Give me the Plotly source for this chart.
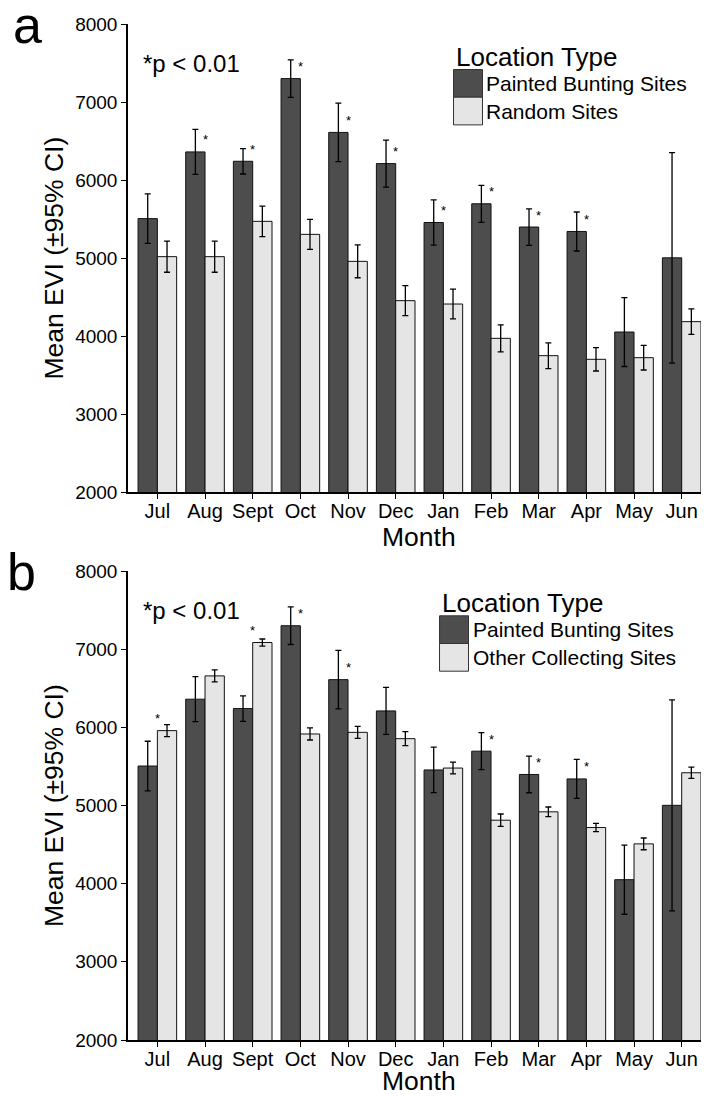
import plotly.graph_objects as go

# ---------------- data ----------------
months = ["Jul", "Aug", "Sept", "Oct", "Nov", "Dec", "Jan", "Feb", "Mar", "Apr", "May", "Jun"]

pb_mean = [5505, 6360, 6240, 7300, 6610, 6210, 5455, 5695, 5397, 5340, 4051, 5002]
pb_ci = [317, 288, 163, 240, 375, 301, 291, 237, 234, 250, 442, 1349]

random_mean = [5017, 5017, 5470, 5303, 4957, 4453, 4410, 3970, 3748, 3701, 3722, 4184]
random_ci = [200, 200, 195, 193, 210, 193, 190, 173, 165, 150, 158, 164]

other_mean = [5958, 6658, 7085, 5915, 5936, 5855, 5479, 4812, 4919, 4718, 4509, 5419]
other_ci = [77, 77, 45, 77, 77, 90, 75, 79, 62, 53, 75, 73]

# significance flags (p < 0.01)
sig_a_pb = [0, 1, 1, 1, 1, 1, 1, 1, 1, 1, 0, 0]
sig_b_pb = [0, 0, 0, 1, 1, 0, 0, 1, 1, 1, 0, 0]
sig_b_other = [1, 0, 1, 0, 0, 0, 0, 0, 0, 0, 0, 0]

y_ticks = [2000, 3000, 4000, 5000, 6000, 7000, 8000]

series_pb = "Painted Bunting Sites"
series_random = "Random Sites"
series_other = "Other Collecting Sites"

# ---------------- geometry / style ----------------
# the page body has an 8px margin; the figure is offset by it
OFF = 8
W, H = 709 - OFF, 1097 - OFF
top_px = (24, 492)      # reference-page pixel rows of panel a
bot_px = (571, 1040)    # reference-page pixel rows of panel b
ML, MR, MT = 127.5 - OFF, 8, top_px[0] - OFF
MB = H - (bot_px[1] - OFF)
PW = W - ML - MR
PH = H - MT - MB

FONT = "Liberation Sans, Arial, Helvetica, sans-serif"
DARK = "#4D4D4D"
LIGHT = "#E5E5E5"


def px_x(px):
    return (px - OFF - ML) / PW


def px_y(py):
    return (H - MB - (py - OFF)) / PH


fig = go.Figure()


def add_bars(xa, ya, name, mean, ci, color):
    fig.add_trace(go.Bar(
        x=months, y=list(mean), name=name, xaxis=xa, yaxis=ya,
        marker=dict(color=color, line=dict(color="#111111", width=1)),
        error_y=dict(type="data", array=ci, visible=True, color="#000000",
                     thickness=1.3, width=3),
        showlegend=False,
    ))


add_bars("x", "y", series_pb, pb_mean, pb_ci, DARK)
add_bars("x", "y", series_random, random_mean, random_ci, LIGHT)
add_bars("x2", "y2", series_pb, pb_mean, pb_ci, DARK)
add_bars("x2", "y2", series_other, other_mean, other_ci, LIGHT)

xaxis_common = dict(
    type="category", range=[-0.616, 11.405], showline=True, linecolor="black",
    linewidth=1.5, ticks="outside", ticklen=5, tickwidth=1, tickcolor="black",
    showgrid=False, zeroline=False, automargin=False, ticklabelstandoff=-5,
    tickfont=dict(family=FONT, size=20, color="black"),
)
yaxis_common = dict(
    range=[2000, 8000], tickvals=y_ticks, showline=True, linecolor="black",
    linewidth=1.5, ticks="outside", ticklen=5, tickwidth=1, tickcolor="black",
    showgrid=False, zeroline=False, automargin=False,
    tickfont=dict(family=FONT, size=19, color="black"),
)

fig.update_layout(
    width=W, height=H,
    margin=dict(l=ML, r=MR, t=MT, b=MB, autoexpand=False),
    paper_bgcolor="white", plot_bgcolor="white",
    barmode="group", bargap=0.19, bargroupgap=0,
    xaxis=dict(anchor="y", domain=[0, 1], **xaxis_common),
    yaxis=dict(anchor="x", domain=[px_y(top_px[1]), px_y(top_px[0])], **yaxis_common),
    xaxis2=dict(anchor="y2", domain=[0, 1], **xaxis_common),
    yaxis2=dict(anchor="x2", domain=[px_y(bot_px[1]), px_y(bot_px[0])], **yaxis_common),
)

ann = []
shapes = []


def add_stars(xref, yref, mean, flags):
    for m, v, f in zip(months, mean, flags):
        if f:
            ann.append(dict(x=m, y=v, xref=xref, yref=yref, text="*", showarrow=False,
                            yanchor="middle", yshift=12,
                            font=dict(family=FONT, size=13, color="black")))


add_stars("x", "y", pb_mean, sig_a_pb)
add_stars("x2", "y2", pb_mean, sig_b_pb)
add_stars("x2", "y2", other_mean, sig_b_other)

panels = [
    (top_px, "a", 10, series_random, 453.3, 56.7, 45),
    (bot_px, "b", 4, series_other, 439.3, 603.0, 41),
]
for (ptop, pbot), letter, letter_x, label2, leg_x, leg_title_y, month_dy in panels:
    ann.append(dict(x=px_x(letter_x), y=px_y(ptop + 1), xref="paper", yref="paper", text=letter,
                    showarrow=False, xanchor="left", yanchor="middle",
                    font=dict(family=FONT, size=52, color="black")))
    ann.append(dict(x=px_x(140.5), y=px_y(ptop + 39.5), xref="paper", yref="paper",
                    text="*p < 0.01", showarrow=False, xanchor="left", yanchor="middle",
                    font=dict(family=FONT, size=24, color="black")))
    ann.append(dict(x=px_x(53), y=px_y((ptop + pbot) / 2), xref="paper", yref="paper",
                    text="Mean EVI (±95% CI)", textangle=-90, showarrow=False,
                    xanchor="center", yanchor="middle",
                    font=dict(family=FONT, size=26.5, color="black")))
    ann.append(dict(x=px_x(419), y=px_y(pbot + month_dy), xref="paper", yref="paper",
                    text="Month", showarrow=False, xanchor="center", yanchor="middle",
                    font=dict(family=FONT, size=26.5, color="black")))
    ann.append(dict(x=px_x(leg_x), y=px_y(leg_title_y), xref="paper", yref="paper",
                    text="Location Type", showarrow=False, xanchor="left", yanchor="middle",
                    font=dict(family=FONT, size=26, color="black")))
    sw_top = leg_title_y + 12.8
    for i, (lab, col) in enumerate([(series_pb, DARK), (label2, LIGHT)]):
        y0 = sw_top + i * 27.7
        y1 = y0 + 27.7
        shapes.append(dict(type="rect", xref="paper", yref="paper",
                           x0=px_x(leg_x), x1=px_x(leg_x + 29), y0=px_y(y1), y1=px_y(y0),
                           fillcolor=col, line=dict(color="#333333", width=1)))
        ann.append(dict(x=px_x(leg_x + 31), y=px_y((y0 + y1) / 2), xref="paper", yref="paper",
                        text=lab, showarrow=False, xanchor="left", yanchor="middle",
                        font=dict(family=FONT, size=21, color="black")))

fig.update_layout(annotations=ann, shapes=shapes)

fig.write_html("out.html")
